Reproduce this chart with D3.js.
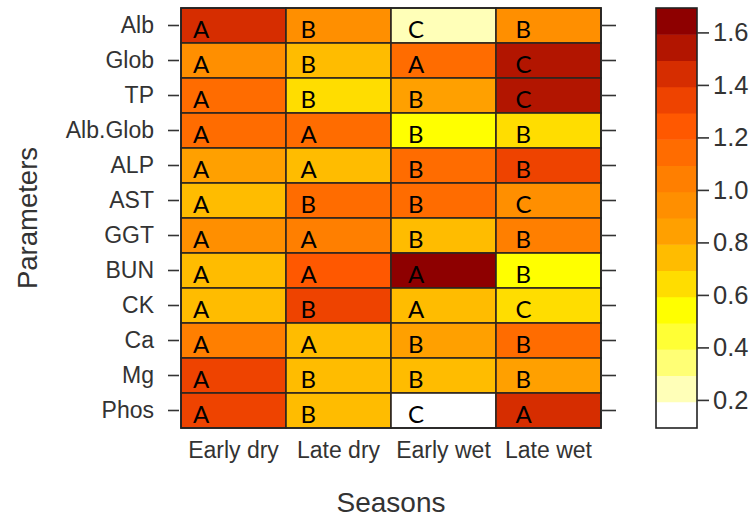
<!DOCTYPE html>
<html>
<head>
<meta charset="utf-8">
<script src="https://cdn.jsdelivr.net/npm/d3@7"></script>
<style>
  body { margin: 0; background: #fff; }
  svg text { font-family: "Liberation Sans", Arial, sans-serif; }
</style>
</head>
<body>
<svg id="plot" width="754" height="519"></svg>
<script>
"use strict";

const parameters = ["Alb", "Glob", "TP", "Alb.Glob", "ALP", "AST", "GGT", "BUN", "CK", "Ca", "Mg", "Phos"];
const seasons = ["Early dry", "Late dry", "Early wet", "Late wet"];

// one row per parameter, one value per season
const values = [
  [1.45, 0.95, 0.22, 0.92],
  [0.90, 0.75, 1.15, 1.58],
  [1.15, 0.65, 0.85, 1.57],
  [1.17, 1.15, 0.55, 0.64],
  [0.80, 0.79, 1.14, 1.36],
  [0.72, 1.12, 1.14, 0.92],
  [0.90, 1.00, 0.78, 1.00],
  [0.77, 1.28, 1.69, 0.57],
  [0.77, 1.36, 0.74, 0.64],
  [1.00, 0.77, 0.88, 1.14],
  [1.38, 0.78, 0.71, 0.82],
  [1.37, 0.72, 0.10, 1.48]
];

const letters = [
  ["A", "B", "C", "B"],
  ["A", "B", "A", "C"],
  ["A", "B", "B", "C"],
  ["A", "A", "B", "B"],
  ["A", "A", "B", "B"],
  ["A", "B", "B", "C"],
  ["A", "A", "B", "B"],
  ["A", "A", "A", "B"],
  ["A", "B", "A", "C"],
  ["A", "A", "B", "B"],
  ["A", "B", "B", "B"],
  ["A", "B", "C", "A"]
];

const keyDomain = [0.093, 1.693];
const keyTicks = [0.2, 0.4, 0.6, 0.8, 1.0, 1.2, 1.4, 1.6];
// 16 colour bands, low -> high
const palette = [
  "#FFFFFF", "#FFFFB8", "#FFFF75", "#FFFF35", "#FFFF00", "#FFDD00",
  "#FFBC00", "#FFA000", "#FF8F00", "#FF7F00", "#FF6C00", "#FF5800",
  "#EE4300", "#D62D00", "#B21500", "#8E0000"
];

const svg = d3.select("svg#plot");
const panel = { left: 181, right: 601, top: 8, bottom: 428 };
const axisColor = "#333";

const x = d3.scaleBand().domain(seasons).range([panel.left, panel.right]);
const y = d3.scaleBand().domain(parameters).range([panel.top, panel.bottom]);
const color = d3.scaleQuantize().domain(keyDomain).range(palette);

const cells = [];
parameters.forEach((p, i) => {
  seasons.forEach((s, j) => {
    cells.push({ param: p, season: s, value: values[i][j], letter: letters[i][j] });
  });
});

// cells
svg.append("g")
  .selectAll("rect")
  .data(cells)
  .enter()
  .append("rect")
  .attr("x", d => x(d.season))
  .attr("y", d => y(d.param))
  .attr("width", x.bandwidth())
  .attr("height", y.bandwidth())
  .attr("fill", d => color(d.value))
  .attr("stroke", "#2e2620")
  .attr("stroke-width", 1.6);

// letters
svg.append("g")
  .selectAll("text")
  .data(cells)
  .enter()
  .append("text")
  .attr("x", d => x(d.season) + 12 + seasons.indexOf(d.season) * 2.5)
  .attr("y", d => y(d.param) + 30)
  .style("font-family", "Lato, 'Open Sans', sans-serif")
  .attr("font-size", 24)
  .attr("fill", "#000")
  .text(d => d.letter);

// panel frame
svg.append("rect")
  .attr("x", panel.left)
  .attr("y", panel.top)
  .attr("width", panel.right - panel.left)
  .attr("height", panel.bottom - panel.top)
  .attr("fill", "none")
  .attr("stroke", "#222")
  .attr("stroke-width", 1.6);

// left axis
const yLeft = svg.append("g")
  .attr("transform", `translate(${panel.left - 2},0)`)
  .call(d3.axisLeft(y).tickSize(11).tickPadding(14));
yLeft.select(".domain").remove();
yLeft.selectAll("line").attr("stroke", axisColor).attr("stroke-width", 1.6);
yLeft.selectAll("text")
  .attr("font-size", 23)
  .attr("fill", axisColor)
  .style("font-family", "'Liberation Sans', Arial, sans-serif");

// right axis ticks (no labels)
const yRight = svg.append("g")
  .attr("transform", `translate(${panel.right},0)`)
  .call(d3.axisRight(y).tickSize(15).tickFormat(""));
yRight.select(".domain").remove();
yRight.selectAll("line").attr("stroke", axisColor).attr("stroke-width", 1.6);

// bottom labels
const xAxis = svg.append("g")
  .attr("transform", `translate(0,${panel.bottom})`)
  .call(d3.axisBottom(x).tickSize(0).tickPadding(14));
xAxis.select(".domain").remove();
xAxis.selectAll("text")
  .attr("font-size", 23)
  .attr("fill", axisColor)
  .style("font-family", "'Liberation Sans', Arial, sans-serif");

// axis titles
svg.append("text")
  .attr("x", (panel.left + panel.right) / 2)
  .attr("y", 512)
  .attr("text-anchor", "middle")
  .attr("font-size", 28)
  .attr("fill", axisColor)
  .text("Seasons");

svg.append("text")
  .attr("transform", `translate(37,${(panel.top + panel.bottom) / 2}) rotate(-90)`)
  .attr("text-anchor", "middle")
  .attr("font-size", 27.5)
  .attr("fill", axisColor)
  .text("Parameters");

// colour key
const key = { left: 656, right: 697 };
const ky = d3.scaleLinear().domain(keyDomain).range([panel.bottom, panel.top]);
const step = (keyDomain[1] - keyDomain[0]) / palette.length;
const bands = palette.map((c, i) => ({ lo: keyDomain[0] + i * step, hi: keyDomain[0] + (i + 1) * step, c: c }));

svg.append("g")
  .selectAll("rect")
  .data(bands)
  .enter()
  .append("rect")
  .attr("x", key.left)
  .attr("y", d => ky(d.hi))
  .attr("width", key.right - key.left)
  .attr("height", d => ky(d.lo) - ky(d.hi) + 0.5)
  .attr("fill", d => d.c);

svg.append("rect")
  .attr("x", key.left)
  .attr("y", panel.top)
  .attr("width", key.right - key.left)
  .attr("height", panel.bottom - panel.top)
  .attr("fill", "none")
  .attr("stroke", "#222")
  .attr("stroke-width", 1.6);

const keyAxis = svg.append("g")
  .attr("transform", `translate(${key.right},0)`)
  .call(d3.axisRight(ky).tickValues(keyTicks).tickFormat(d3.format(".1f")).tickSize(12).tickPadding(4));
keyAxis.select(".domain").remove();
keyAxis.selectAll("line").attr("stroke", axisColor).attr("stroke-width", 1.6);
keyAxis.selectAll("text")
  .attr("font-size", 25.5)
  .attr("fill", axisColor)
  .style("font-family", "'Liberation Sans', Arial, sans-serif");
</script>
</body>
</html>
